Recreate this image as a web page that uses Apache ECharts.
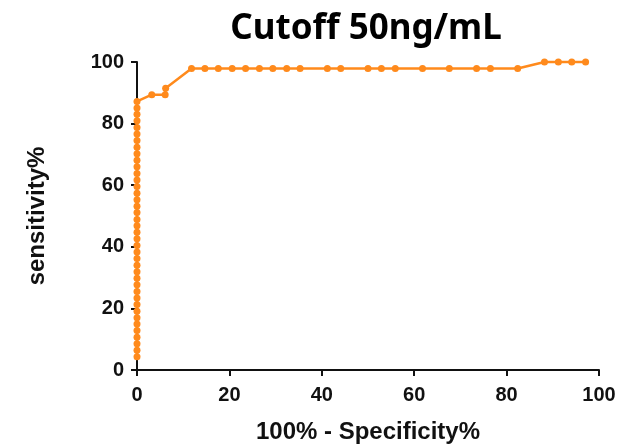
<!DOCTYPE html>
<html>
<head>
<meta charset="utf-8">
<script src="https://cdn.jsdelivr.net/npm/echarts@6/dist/echarts.min.js"></script>
<style>
  html, body { margin: 0; padding: 0; background: #fff; }
  #chart { width: 620px; height: 446px; }
</style>
</head>
<body>
<div id="chart"></div>
<script>
// ROC curve points: 100% - specificity% (x) and sensitivity% (y)
const fpr = [
  0, 0, 0, 0, 0, 0, 0, 0, 0, 0,
  0, 0, 0, 0, 0, 0, 0, 0, 0, 0,
  0, 0, 0, 0, 0, 0, 0, 0, 0, 0,
  0, 0, 0, 0, 0, 0, 0, 0, 0, 0,
  3.2, 6.1, 6.2, 11.8, 14.7, 17.6, 20.6, 23.5, 26.5, 29.4,
  32.4, 35.3, 41.2, 44.1, 50.0, 52.9, 55.9, 61.8, 67.6, 73.5,
  76.5, 82.4, 88.2, 91.2, 94.1, 97.1
];
const sensitivity = [
  4.3, 6.4, 8.5, 10.6, 12.8, 14.9, 17.0, 19.1, 21.3, 23.4,
  25.5, 27.7, 29.8, 31.9, 34.0, 36.2, 38.3, 40.4, 42.6, 44.7,
  46.8, 48.9, 51.1, 53.2, 55.3, 57.4, 59.6, 61.7, 63.8, 66.0,
  68.1, 70.2, 72.3, 74.5, 76.6, 78.7, 80.9, 83.0, 85.1, 87.2,
  89.4, 89.4, 91.5, 97.9, 97.9, 97.9, 97.9, 97.9, 97.9, 97.9,
  97.9, 97.9, 97.9, 97.9, 97.9, 97.9, 97.9, 97.9, 97.9, 97.9,
  97.9, 97.9, 100, 100, 100, 100
];
const axisTicks = [0, 20, 40, 60, 80, 100];

const chart = echarts.init(document.getElementById("chart"));

const axisCommon = {
  type: "value",
  min: axisTicks[0],
  max: axisTicks[axisTicks.length - 1],
  interval: 20,
  nameLocation: "middle",
  nameTextStyle: { fontFamily: "Liberation Sans", fontWeight: "bold", fontSize: 24, color: "#111" },
  axisLine: { show: true, lineStyle: { color: "#111", width: 2 } },
  axisTick: { show: true, inside: false, length: 6, lineStyle: { color: "#111", width: 2 } },
  axisLabel: { fontFamily: "Liberation Sans", fontWeight: "bold", fontSize: 20, color: "#111" },
  splitLine: { show: false },
};

chart.setOption({
  animation: false,
  title: {
    text: "Cutoff 50ng/mL",
    left: 361,
    top: 7,
    textAlign: "center",
    textStyle: { fontFamily: "Noto Sans", fontWeight: "bold", fontSize: 35, color: "#000" },
  },
  grid: { left: 137, right: 21, top: 62, bottom: 76, outerBoundsMode: "none" },
  xAxis: Object.assign({}, axisCommon, {
    name: "100% - Specificity%",
    nameGap: 50,
    axisLabel: Object.assign({}, axisCommon.axisLabel, { margin: 15 }),
  }),
  yAxis: Object.assign({}, axisCommon, {
    name: "sensitivity%",
    nameGap: 88,
    axisLabel: Object.assign({}, axisCommon.axisLabel, { margin: 13 }),
  }),
  series: [
    {
      type: "line",
      data: fpr.map((x, i) => [x, sensitivity[i]]),
      symbol: "circle",
      symbolSize: 7,
      lineStyle: { color: "#ff8a1c", width: 2.5 },
      itemStyle: { color: "#ff8a1c" },
      clip: false,
    },
  ],
});
</script>
</body>
</html>
